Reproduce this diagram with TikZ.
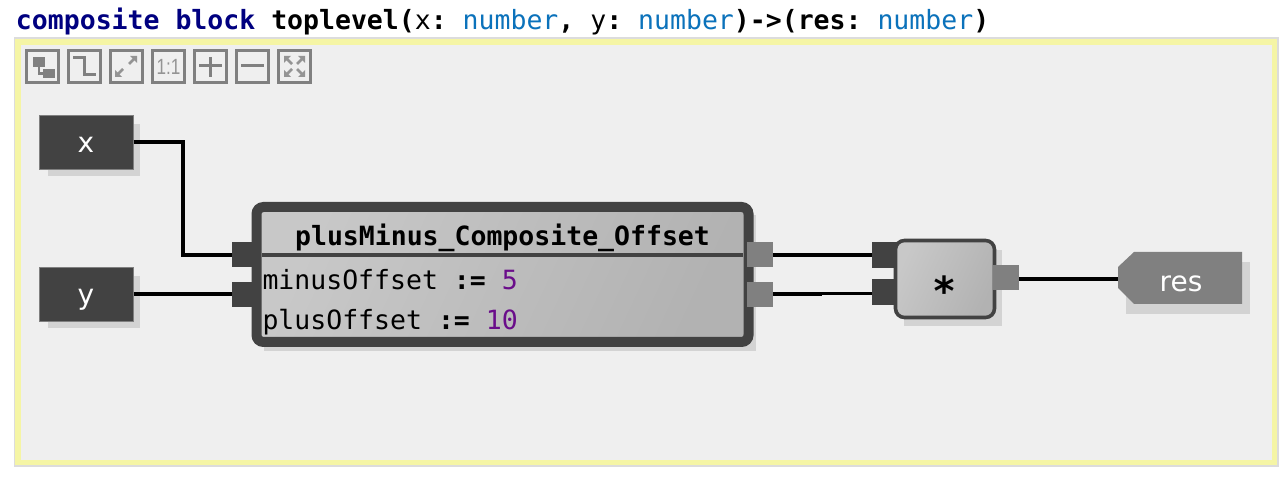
\documentclass[tikz,border=0pt]{standalone}
\usepackage{fontspec}
\setmainfont{DejaVu Sans}
\newfontfamily\monof{DejaVu Sans Mono}
\newfontfamily\onefont{Liberation Sans}
\usetikzlibrary{calc}
\definecolor{dark}{HTML}{424242}
\definecolor{mid}{HTML}{808080}
\definecolor{shadowc}{HTML}{D3D3D3}
\definecolor{panel}{HTML}{EFEFEF}
\definecolor{yell}{HTML}{F5F5A5}
\definecolor{edge}{HTML}{DCDCDC}
\definecolor{kw}{HTML}{000080}
\definecolor{typ}{HTML}{0B72BB}
\definecolor{numc}{HTML}{6A0D8A}
\definecolor{icon}{HTML}{808080}
\definecolor{iconl}{HTML}{949494}
\definecolor{gradA}{HTML}{C8C8C8}
\definecolor{gradB}{HTML}{B2B2B2}
\newcommand{\hdrfont}{\monof\frenchspacing\fontsize{26.5}{30}\selectfont}
\newcommand{\lblfont}{\fontsize{28}{30}\selectfont}
\tikzset{
  x=1pt,y=-1pt,
  shadowbox/.style={fill=shadowc,draw=none},
  srcbox/.style={fill=dark,draw=mid,line width=0.8pt,minimum width=94pt,minimum height=54pt,inner sep=0pt,outer sep=0pt},
  lbl/.style={text=white,font=\lblfont,inner sep=0pt,anchor=base},
  inport/.style={fill=dark,draw=none,minimum width=30pt,minimum height=25pt,inner sep=0pt,outer sep=0pt},
  inportb/.style={fill=dark,draw=none,minimum width=26pt,minimum height=25.5pt,inner sep=0pt,outer sep=0pt},
  outport/.style={fill=mid,draw=none,minimum width=26pt,minimum height=25pt,inner sep=0pt,outer sep=0pt},
  wire/.style={draw=black,line width=4pt,line cap=butt,line join=miter},
  monotext/.style={font=\hdrfont,inner sep=0pt,outer sep=0pt,anchor=base west,text=black},
  toolbtn/.style={draw=icon,line width=3pt,fill=none,minimum width=32pt,minimum height=32pt,inner sep=0pt,outer sep=0pt},
  iconline/.style={draw=icon,line width=3pt},
  gradfill/.style={left color=gradA,right color=gradB,shading angle=65},
}
\newcommand{\exparrow}[3]{%
  \fill[iconl,shift={(#1,#2)},rotate=#3] (0,0) -- (-7,0) -- (0,7) -- cycle;
  \draw[iconl,line width=2.6pt,shift={(#1,#2)},rotate=#3] (-3,3) -- (-8,8);
}
\begin{document}
\begin{tikzpicture}
\useasboundingbox (0,0) rectangle (1288,478);
\fill[white] (0,0) rectangle (1288,478);
% frame
\fill[edge] (13.5,37) rectangle (1278.5,467);
\fill[yell] (15,39) rectangle (1277,465);
\fill[panel] (21,45) rectangle (1272,460);
% header
\node[monotext] (hdr) at (16,29.5) {\textcolor{kw}{\textbf{composite block}} \textbf{toplevel(}x\textbf{:} \textcolor{typ}{number}\textbf{,} y\textbf{:} \textcolor{typ}{number}\textbf{)->(res:} \textcolor{typ}{number}\textbf{)}};
% toolbar
\node[toolbtn] (b1) at (42.5,66.5) {};
\node[toolbtn] (b2) at (84.5,66.5) {};
\node[toolbtn] (b3) at (126.5,66.5) {};
\node[toolbtn] (b4) at (168.5,66.5) {};
\node[toolbtn] (b5) at (210.5,66.5) {};
\node[toolbtn] (b6) at (252.5,66.5) {};
\node[toolbtn] (b7) at (294.5,66.5) {};
\fill[icon] (33,57) rectangle (45,67);
\fill[icon] (43,69) rectangle (55,78.5);
\draw[iconline,line width=2.5pt] (39,67) |- (43,73.5);
\draw[iconline] (73,58) -- (84,58) -- (84,75) -- (95.5,75);
\exparrow{137}{56}{0}
\exparrow{115}{77}{180}
\node[text=iconl,font=\onefont\fontsize{22}{24}\selectfont,inner sep=0pt,xscale=0.78,transform shape] (t11) at (168.5,66.5) {1:1};
\draw[iconline] (199,66) -- (222,66);
\draw[iconline] (210.5,57) -- (210.5,77);
\draw[iconline] (241,66) -- (264,66);
\exparrow{305}{56}{0}
\exparrow{284}{56}{90}
\exparrow{305}{77}{-90}
\exparrow{284}{77}{180}
% shadows
\fill[shadowbox] (48,124) rectangle (140,176);
\fill[shadowbox] (48,276) rectangle (140,328);
\fill[shadowbox] (264,215) rectangle (756,351);
\fill[shadowbox] (904,250) rectangle (1002,326);
\fill[shadowbox] (1126,262) rectangle (1250,314);
% source boxes
\node[srcbox] (x) at (86.5,142) {};
\node[srcbox] (y) at (86.5,294) {};
\node[lbl] (xl) at (86,153) {x};
\node[lbl] (yl) at (86,305) {y};
% block ports in
\node[inport] (pin1) at (247,255) {};
\node[inport] (pin2) at (247,294.5) {};
% block
\node[gradfill,draw=dark,line width=10pt,rounded corners=7pt,minimum width=492pt,minimum height=135pt,inner sep=0pt,outer sep=0pt] (block) at (502.5,274.5) {};
\draw[dark,line width=4pt] (262,255) -- (743,255);
\node[font=\hdrfont\bfseries,inner sep=0pt,anchor=base] (title) at (502.5,246) {plusMinus\_Composite\_Offset};
\node[monotext] (p1) at (262.5,289.5) {minusOffset \textbf{:=} \textcolor{numc}{5}};
\node[monotext] (p2) at (262.5,329.5) {plusOffset \textbf{:=} \textcolor{numc}{10}};
% block ports out
\node[outport] (pout1) at (760,255) {};
\node[outport] (pout2) at (760,294.5) {};
% multiply
\node[inportb] (min1) at (885,255) {};
\node[inportb] (min2) at (885,292) {};
\node[gradfill,draw=dark,line width=3.6pt,rounded corners=9pt,minimum width=99pt,minimum height=77pt,inner sep=0pt,outer sep=0pt] (mult) at (945,279) {};
\node[font=\monof\bfseries\fontsize{40}{40}\selectfont,inner sep=0pt,text=black] (star) at (945,291) {*};
\node[outport] (mout) at (1006,278) {};
% result
\coordinate (res) at (1118,279);
\fill[mid] (1134,252) -- (1242,252) -- (1242,304) -- (1134,304) -- (1118,288) -- (1118,267) -- cycle;
\node[lbl] (restext) at (1181,292) {res};
% wires
\coordinate (xb) at (183,200);
\coordinate (mid2) at (822,293.3);
\draw[wire] (x.east) -| (xb) |- (pin1.west);
\draw[wire,line width=3.8pt] (y.east) -- (y.east -| pin2.west);
\draw[wire] (pout1.east) -- (min1.west);
\draw[wire] (pout2.east) -- (pout2.east -| mid2);
\draw[wire,line width=3.4pt] (mid2) -- (mid2 -| min2.west);
\draw[wire] (mout.east |- res) -- (res);
\end{tikzpicture}
\end{document}
